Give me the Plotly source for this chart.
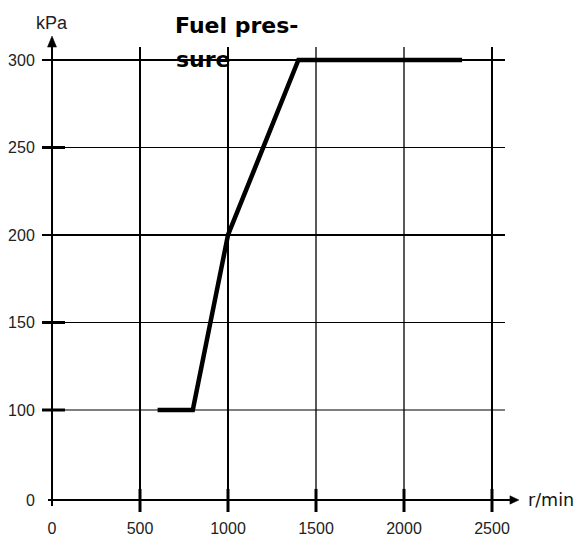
import plotly.graph_objects as go

# Fuel-pressure characteristic: engine speed (r/min) vs. pressure (kPa)
speed_rpm = [600, 800, 1000, 1400, 2330]
pressure_kpa = [100, 100, 200, 300, 300]

x_ticks = [0, 500, 1000, 1500, 2000, 2500]
x_tick_labels = ["0", "500", "1000", "1500", "2000", "2500"]
y_ticks = [0, 100, 150, 200, 250, 300]
y_tick_labels = ["0", "100", "150", "200", "250", "300"]

x_grid = [500, 1000, 1500, 2000, 2500]
x_grid_bold = [500, 1000, 2500]
y_grid = [100, 150, 200, 250, 300]
y_grid_bold = [200, 300]
y_side_ticks = [100, 150, 250]

title_lines = ["Fuel pres-", "sure"]

# The pressure axis is broken between 0 and 100: its floor ("0") sits here.
Y_FLOOR = 48.6
X_RANGE = [-295.5, 2983.0]
Y_RANGE = [25.14, 334.29]

# extents of the frame, in data units
GRID_LEFT, GRID_RIGHT = -57, 2574
GRID_TOP = 307.4
AXIS_BOTTOM = 45.1
X_AXIS_START, X_AXIS_END, X_ARROW_TIP = -22.7, 2602, 2653
Y_ARROW_TIP = 313.7
X_ARROW_HALF = 2.4     # y units
Y_ARROW_HALF = 25.6    # x units
SIDE_TICK_END = 74
TICK_TOP, TICK_BOTTOM = 54.9, 41.7

BLACK = "#000000"


def seg(x0, y0, x1, y1, width):
    return dict(type="line", xref="x", yref="y", x0=x0, y0=y0, x1=x1, y1=y1,
                line=dict(color=BLACK, width=width), layer="below")


y_tickvals = [Y_FLOOR if v == 0 else v for v in y_ticks]

shapes = []
# horizontal grid lines
for v in y_grid:
    shapes.append(seg(GRID_LEFT, v, GRID_RIGHT, v, 2 if v in y_grid_bold else 1.2))
# short marks on the pressure axis
for v in y_side_ticks:
    shapes.append(seg(GRID_LEFT, v, SIDE_TICK_END, v, 3))
# vertical grid lines
for v in x_grid:
    shapes.append(seg(v, Y_FLOOR, v, GRID_TOP, 2 if v in x_grid_bold else 1.3))
# marks across the speed axis
for v in x_grid:
    shapes.append(seg(v, TICK_BOTTOM, v, TICK_TOP, 3))
# axes
shapes.append(seg(0, AXIS_BOTTOM, 0, GRID_TOP, 2))
shapes.append(seg(X_AXIS_START, Y_FLOOR, X_AXIS_END, Y_FLOOR, 2))
# arrow heads
shapes.append(dict(type="path", xref="x", yref="y",
                   path=f"M {-Y_ARROW_HALF} {GRID_TOP} L {Y_ARROW_HALF} {GRID_TOP} L 0 {Y_ARROW_TIP} Z",
                   fillcolor=BLACK, line=dict(color=BLACK, width=0.5)))
shapes.append(dict(type="path", xref="x", yref="y",
                   path=f"M {X_AXIS_END} {Y_FLOOR - X_ARROW_HALF} L {X_AXIS_END} {Y_FLOOR + X_ARROW_HALF} L {X_ARROW_TIP} {Y_FLOOR} Z",
                   fillcolor=BLACK, line=dict(color=BLACK, width=0.5)))

fig = go.Figure()
fig.add_trace(go.Scatter(x=speed_rpm, y=pressure_kpa, mode="lines",
                         line=dict(color=BLACK, width=4.5),
                         hoverinfo="skip", showlegend=False))

annotations = [
    dict(x=0, y=Y_ARROW_TIP, xref="x", yref="y", text="kPa", showarrow=False,
         xanchor="center", yanchor="bottom", yshift=1,
         font=dict(family="Liberation Sans, Arial", size=18, color="#222222")),
    dict(x=X_ARROW_TIP, y=Y_FLOOR, xref="x", yref="y", text="r/min", showarrow=False,
         xanchor="left", yanchor="middle", xshift=7,
         font=dict(family="DejaVu Sans", size=17.5, color="#111111")),
    dict(x=685, y=319.5, xref="x", yref="y", text=title_lines[0], showarrow=False,
         xanchor="left", yanchor="middle",
         font=dict(family="DejaVu Sans", size=22, color=BLACK, weight="bold")),
    dict(x=695, y=300.5, xref="x", yref="y", text=title_lines[1], showarrow=False,
         xanchor="left", yanchor="middle",
         font=dict(family="DejaVu Sans", size=22, color=BLACK, weight="bold")),
]

tick_font = dict(family="Liberation Sans, Arial", size=16, color="#222222")

fig.update_layout(
    width=577, height=541,
    margin=dict(l=0, r=0, t=0, b=0),
    paper_bgcolor="white", plot_bgcolor="white",
    shapes=shapes, annotations=annotations,
    xaxis=dict(range=X_RANGE, tickvals=x_ticks, ticktext=x_tick_labels,
               showgrid=False, zeroline=False, showline=False,
               ticks="outside", ticklen=14, tickcolor="rgba(0,0,0,0)",
               anchor="free",
               position=(Y_FLOOR - Y_RANGE[0]) / (Y_RANGE[1] - Y_RANGE[0]),
               tickfont=tick_font, fixedrange=True),
    yaxis=dict(range=Y_RANGE, tickvals=y_tickvals, ticktext=y_tick_labels,
               showgrid=False, zeroline=False, showline=False,
               ticks="outside", ticklen=14, tickcolor="rgba(0,0,0,0)",
               anchor="free",
               position=(0 - X_RANGE[0]) / (X_RANGE[1] - X_RANGE[0]),
               tickfont=tick_font, fixedrange=True),
)

fig.write_html("out.html", config={"displayModeBar": False})
